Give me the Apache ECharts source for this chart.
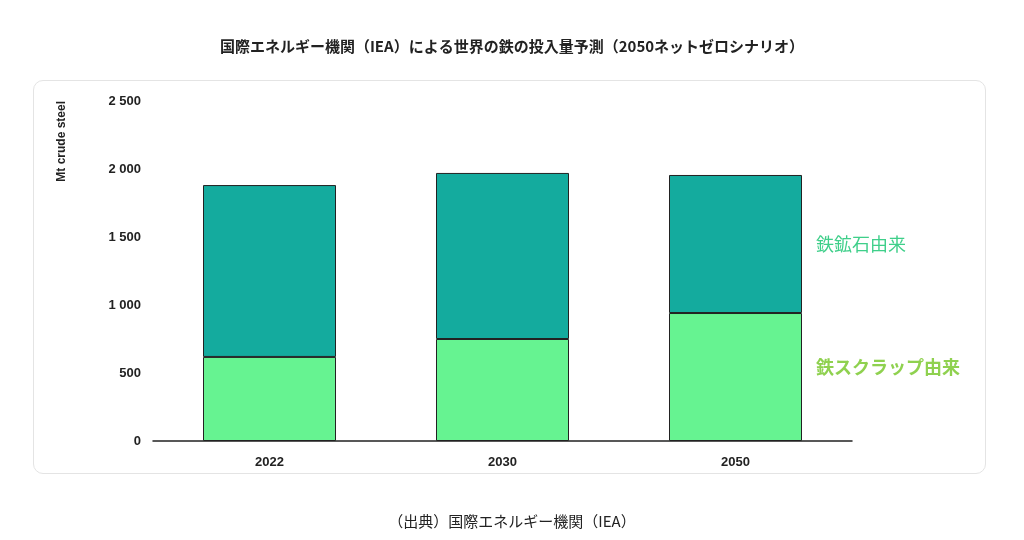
<!DOCTYPE html>
<html><head><meta charset="utf-8">
<script src="https://cdn.jsdelivr.net/npm/echarts@6/dist/echarts.min.js"></script>
<style>html,body{margin:0;background:#fff}#c{width:1024px;height:540px}
#card{position:absolute;left:33px;top:80px;width:951px;height:392px;border:1px solid #e4e4e4;border-radius:10px}</style>
</head><body><div id="card"></div><div id="c" style="position:absolute;left:0;top:0"></div>
<script>
const categories = ['2022','2030','2050'];
const scrap = [618, 750, 941];
const ore = [1264, 1221, 1015];
const yTicks = ['0','500','1 000','1 500','2 000','2 500'];
const font = '"Noto Sans CJK JP", sans-serif';
const chart = echarts.init(document.getElementById('c'));
chart.setOption({
  animation:false,
  title:[{text:'国際エネルギー機関（IEA）による世界の鉄の投入量予測（2050ネットゼロシナリオ）',left:'center',top:34,textStyle:{fontFamily:font,fontSize:15,fontWeight:'bold',color:'#222'}},
    {text:'（出典）国際エネルギー機関（IEA）',left:'center',top:509,textStyle:{fontFamily:font,fontSize:15,fontWeight:'normal',color:'#222'}}],
  grid:{left:153,right:172,top:101,bottom:99},
  xAxis:{type:'category',data:categories,axisTick:{show:false},axisLine:{lineStyle:{color:'#222',width:1.5}},
    axisLabel:{fontFamily:'Liberation Sans, Arial',fontWeight:'bold',fontSize:13,color:'#222',margin:15}},
  yAxis:{type:'value',min:0,max:2500,interval:500,splitLine:{show:false},
    name:'Mt crude steel',nameLocation:'end',nameRotate:90,nameGap:0,
    nameTextStyle:{fontFamily:'Liberation Sans, Arial',fontWeight:'bold',fontSize:12,color:'#222',align:'right',verticalAlign:'bottom',padding:[0,0,85,0]},
    axisLabel:{fontFamily:'Liberation Sans, Arial',fontWeight:'bold',fontSize:13,color:'#222',margin:12,formatter:v=>yTicks[v/500]}},
  series:[
    {type:'bar',stack:'s',data:scrap,barWidth:133,itemStyle:{color:'#66f391',borderColor:'#222',borderWidth:1},
     label:{show:true,position:'right',distance:14,offset:[0,-10],fontFamily:font,fontSize:18,color:'#8fd14f',fontWeight:'bold',formatter:p=>p.dataIndex===2?'鉄スクラップ由来':''}},
    {type:'bar',stack:'s',data:ore,barWidth:133,itemStyle:{color:'#14ab9e',borderColor:'#222',borderWidth:1},
     label:{show:true,position:'right',distance:14,offset:[0,0],fontFamily:font,fontSize:18,color:'#3fcf8a',formatter:p=>p.dataIndex===2?'鉄鉱石由来':''}}
  ]
});
</script></body></html>
